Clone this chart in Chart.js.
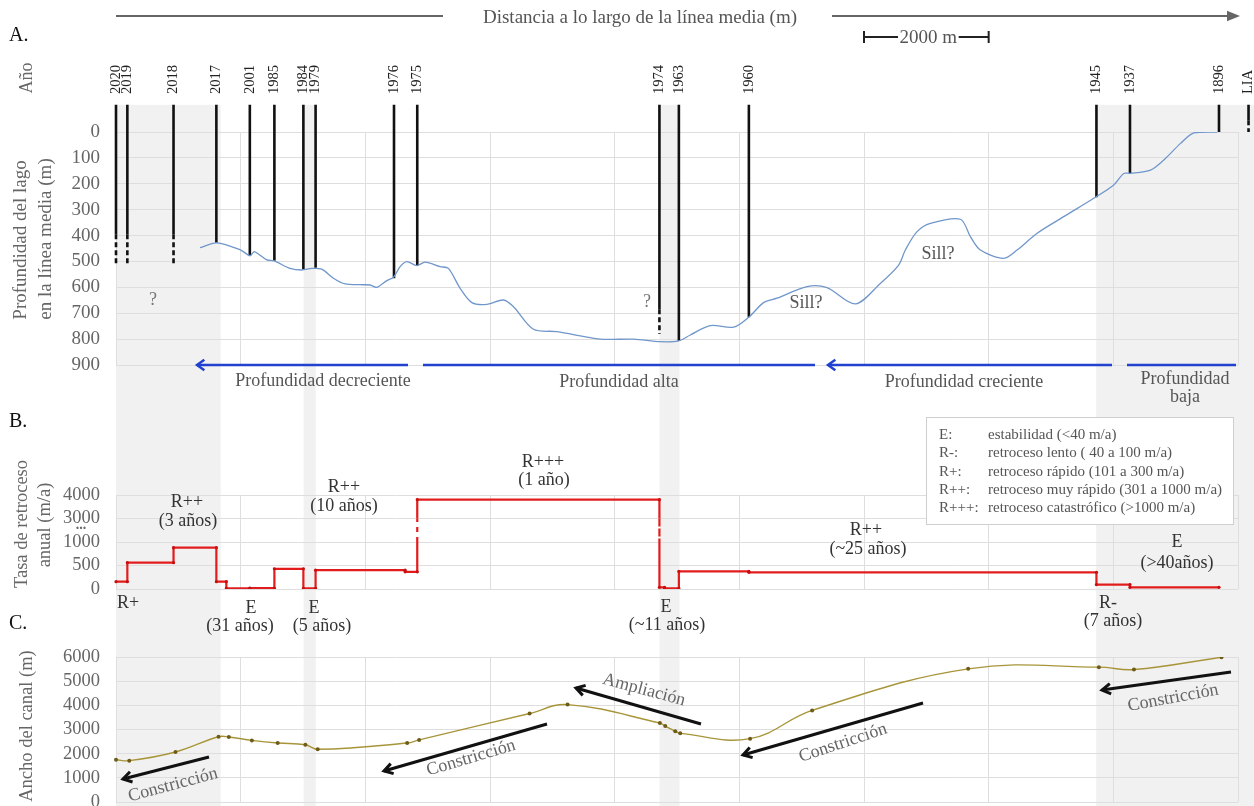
<!DOCTYPE html>
<html lang="es">
<head>
<meta charset="utf-8">
<title>Perfil del lago, tasa de retroceso y ancho del canal</title>
<script src="https://cdn.jsdelivr.net/npm/chart.js"></script>
<style>
  html, body { margin: 0; padding: 0; background: #fff; }
  #figure { position: relative; width: 1254px; height: 806px; overflow: hidden; background: #fff; }
  #figure canvas { position: absolute; left: 0; top: 0; }
</style>
</head>
<body>
<div id="figure">
  <canvas id="depthChart" width="1254" height="806"></canvas>
  <canvas id="rateChart" width="1254" height="806"></canvas>
  <canvas id="widthChart" width="1254" height="806"></canvas>
</div>
<script>
// ---------------- data ----------------
// distance along the centre line (m)
const distanceRange = [0, 18000];
const distanceGridStep = 2000;

// dated front positions: distance (m) and depth reached by the front line (m)
const yearLabels = ['2020', '2019', '2018', '2017', '2001', '1985', '1984', '1979', '1976', '1975',
                    '1974', '1963', '1960', '1945', '1937', '1896', 'LIA'];
const yearDistance = [0, 182, 923, 1610, 2147, 2541, 3006, 3202, 4460, 4833,
                      8718, 9030, 10153, 15729, 16267, 17695, 18169];
const frontDepth = [395, 395, 395, 428, 478, 497, 530, 524, 565, 516,
                    685, 807, 716, 252, 160, 0, -45];
const frontDepthUncertain = [515, 515, 515, null, null, null, null, null, null, null,
                             780, null, null, null, null, null, 0];

// lake bottom profile along the centre line
const profileDistance = [1348, 1616, 2001, 2151, 2215, 2284, 2419, 2536, 2793, 2981,
  3141, 3301, 3488, 3675, 3969, 4077, 4184, 4345, 4451, 4558,
  4666, 4826, 4960, 5200, 5333, 5521, 5709, 5950, 6216, 6377,
  6698, 7073, 7768, 8303, 8731, 9025, 9213, 9534, 9908, 10149,
  10389, 10604, 11085, 11406, 11861, 12262, 12556, 12663, 12851, 13065,
  13546, 13707, 13867, 14241, 14456, 14777, 15204, 15713, 16007, 16167,
  16275, 16596, 16810, 17078, 17291, 17666];
const profileDepth = [447, 428, 456, 478, 462, 471, 494, 498, 527, 533,
  527, 530, 565, 587, 590, 591, 600, 574, 561, 520,
  501, 516, 503, 520, 527, 604, 659, 666, 649, 675,
  762, 771, 800, 800, 810, 807, 784, 748, 754, 716,
  659, 642, 597, 601, 664, 585, 514, 456, 385, 353,
  337, 404, 456, 488, 456, 391, 327, 252, 205, 160,
  160, 147, 108, 44, 3, 0];

// annual retreat rate (m/a) between consecutive break distances
const retreatBreaks = [0, 182, 923, 1610, 1770, 2147, 2541, 3006, 3202, 4638,
                       4833, 8718, 8800, 9030, 10153, 15729, 16267, 17695];
const retreatRate = [155, 560, 880, 155, 15, 18, 430, 15, 400, 365,
                     3800, 35, 15, 375, 355, 95, 35];
const rateTickLabels = [0, 500, 1000, 3000, 4000];

// channel width (m)
const widthDistance = [0, 213, 955, 1645, 1810, 2180, 2594, 3038, 3236, 4671,
  4863, 6635, 7244, 8725, 8811, 8972, 9052, 10173, 11168, 13671,
  15768, 16331, 17735];
const widthValue = [1750, 1710, 2070, 2700, 2690, 2550, 2440, 2370, 2180, 2440,
  2570, 3660, 4030, 3270, 3140, 2930, 2840, 2620, 3790, 5510,
  5580, 5480, 5990];

// periods shaded across the three panels (m)
const shadedSpans = [[0, 1680], [3010, 3205], [8720, 9040], [15725, 18300]];

// retreat class legend
const rateClassKeys = ['E:', 'R-:', 'R+:', 'R++:', 'R+++:'];
const rateClassText = ['estabilidad (<40 m/a)', 'retroceso lento ( 40 a 100 m/a)',
  'retroceso rápido (101 a 300 m/a)', 'retroceso muy rápido (301 a 1000 m/a)',
  'retroceso catastrófico (>1000 m/a)'];

// ---------------- helpers ----------------
const SERIF = '"Liberation Serif", "Times New Roman", Times, serif';
const GRID = '#dedede';
const FRONT_TOP = -105;        // front lines start a little above the surface line

function txt(ctx, s, x, y, o = {}) {
  ctx.save();
  ctx.translate(x, y);
  if (o.rot) ctx.rotate(o.rot * Math.PI / 180);
  ctx.font = (o.weight || 'normal') + ' ' + (o.size || 18) + 'px ' + SERIF;
  ctx.fillStyle = o.color || '#555';
  ctx.textAlign = o.align || 'center';
  ctx.textBaseline = o.base || 'middle';
  ctx.fillText(s, 0, 0);
  ctx.restore();
}

// straight arrow from tail (tx,ty) to head (hx,hy)
function arrow(ctx, tx, ty, hx, hy, o) {
  const a = Math.atan2(hy - ty, hx - tx);
  const L = o.head || 9, sp = o.spread || 0.5;
  ctx.save();
  ctx.strokeStyle = o.color; ctx.fillStyle = o.color; ctx.lineWidth = o.width;
  ctx.beginPath(); ctx.moveTo(tx, ty);
  ctx.lineTo(o.filled ? hx - L * 0.8 * Math.cos(a) : hx, o.filled ? hy - L * 0.8 * Math.sin(a) : hy);
  ctx.stroke();
  ctx.beginPath();
  ctx.moveTo(hx - L * Math.cos(a - sp), hy - L * Math.sin(a - sp));
  ctx.lineTo(hx, hy);
  ctx.lineTo(hx - L * Math.cos(a + sp), hy - L * Math.sin(a + sp));
  if (o.filled) { ctx.closePath(); ctx.fill(); } else { ctx.lineJoin = 'miter'; ctx.stroke(); }
  ctx.restore();
}

function line(ctx, x1, y1, x2, y2, color, width) {
  ctx.save();
  ctx.strokeStyle = color; ctx.lineWidth = width;
  ctx.beginPath(); ctx.moveTo(x1, y1); ctx.lineTo(x2, y2); ctx.stroke();
  ctx.restore();
}

function xAxis() {
  return {
    type: 'linear',
    afterDataLimits(s) { s.min = distanceRange[0]; s.max = distanceRange[1]; },
    ticks: { display: false, stepSize: distanceGridStep },
    grid: { color: GRID, drawTicks: false, lineWidth: 1 },
    border: { display: false },
    afterFit(s) { s.height = 0; s.paddingLeft = 0; s.paddingRight = 0; }
  };
}

function yAxis(extra) {
  return Object.assign({
    type: 'linear',
    grid: { color: GRID, drawTicks: false, lineWidth: 1 },
    border: { display: false },
    afterFit(s) { s.width = 116; s.paddingTop = 0; s.paddingBottom = 0; }
  }, extra);
}

function baseOptions(padding, y) {
  return {
    responsive: false,
    animation: false,
    events: [],
    layout: { padding },
    plugins: { legend: { display: false }, tooltip: { enabled: false } },
    scales: { x: xAxis(), y }
  };
}

// ---------------- A: lake depth ----------------
const frontSolid = [], frontUncertain = [];
yearDistance.forEach((d, i) => {
  frontSolid.push({ x: d, y: FRONT_TOP }, { x: d, y: frontDepth[i] }, { x: d, y: null });
  if (frontDepthUncertain[i] !== null) {
    frontUncertain.push({ x: d, y: frontDepth[i] }, { x: d, y: frontDepthUncertain[i] }, { x: d, y: null });
  }
});

const shadePlugin = {
  id: 'shadedSpans',
  beforeDraw(chart) {
    const { ctx, scales: { x, y } } = chart;
    const top = y.getPixelForValue(FRONT_TOP);
    ctx.save();
    ctx.fillStyle = '#f1f1f1';
    shadedSpans.forEach(([a, b]) => {
      const x0 = x.getPixelForValue(a), x1 = x.getPixelForValue(b);
      ctx.fillRect(x0, top, x1 - x0, chart.height - top);
    });
    ctx.restore();
  }
};

const depthDecor = {
  id: 'depthDecor',
  afterDraw(chart) {
    const { ctx, scales: { x } } = chart;
    // distance header with arrow
    line(ctx, 116, 16, 443, 16, '#666', 2);
    arrow(ctx, 832, 16, 1240, 16, { color: '#666', width: 2, head: 14, spread: 0.38, filled: true });
    txt(ctx, 'Distancia a lo largo de la línea media (m)', 640, 18, { size: 19, color: '#555' });
    // 2000 m scale bar
    const s0 = x.getPixelForValue(12000), s1 = x.getPixelForValue(14000);
    line(ctx, s0, 37, s0 + 34, 37, '#222', 2);
    line(ctx, s1 - 30, 37, s1, 37, '#222', 2);
    line(ctx, s0, 31, s0, 43, '#222', 2);
    line(ctx, s1, 31, s1, 43, '#222', 2);
    txt(ctx, '2000 m', (s0 + s1) / 2 + 2, 38, { size: 19, color: '#555' });

    txt(ctx, 'A.', 9, 36, { size: 20, color: '#111', align: 'left' });
    txt(ctx, 'Año', 27, 78, { size: 18, color: '#666', rot: -90 });

    // year labels above the front lines
    yearLabels.forEach((lab, i) => {
      txt(ctx, lab, x.getPixelForValue(yearDistance[i]), 94, { size: 14.5, color: '#222', rot: -90, align: 'left' });
    });

    // axis title
    txt(ctx, 'Profundidad del lago', 21, 240, { size: 19, color: '#666', rot: -90 });
    txt(ctx, 'en la línea media (m)', 46, 239, { size: 19, color: '#666', rot: -90 });

    // notes inside the panel
    txt(ctx, '?', 153, 300, { size: 18, color: '#777' });
    txt(ctx, '?', 647, 302, { size: 18, color: '#777' });
    txt(ctx, 'Sill?', 806, 303, { size: 18, color: '#555' });
    txt(ctx, 'Sill?', 938, 254, { size: 18, color: '#555' });

    // depth trend arrows along the bottom line
    const blue = '#2141cf';
    arrow(ctx, 408, 365, 197, 365, { color: blue, width: 2.5, head: 9, spread: 0.62 });
    line(ctx, 423, 365, 815, 365, blue, 2.5);
    arrow(ctx, 1112, 365, 828, 365, { color: blue, width: 2.5, head: 9, spread: 0.62 });
    line(ctx, 1127, 365, 1236, 365, blue, 2.5);
    txt(ctx, 'Profundidad decreciente', 323, 381, { size: 18, color: '#555' });
    txt(ctx, 'Profundidad alta', 619, 382, { size: 18, color: '#555' });
    txt(ctx, 'Profundidad creciente', 964, 382, { size: 18, color: '#555' });
    txt(ctx, 'Profundidad', 1185, 379, { size: 18, color: '#555' });
    txt(ctx, 'baja', 1185, 397, { size: 18, color: '#555' });
  }
};

new Chart(document.getElementById('depthChart'), {
  type: 'line',
  data: {
    datasets: [
      { label: 'Profundidad', data: profileDistance.map((d, i) => ({ x: d, y: profileDepth[i] })),
        borderColor: '#7097cb', borderWidth: 1.3, pointRadius: 0, tension: 0.3 },
      { label: 'Frentes', data: frontSolid, borderColor: '#111', borderWidth: 2.6,
        pointRadius: 0, spanGaps: false, clip: false, tension: 0 },
      { label: 'Frentes inciertos', data: frontUncertain, borderColor: '#111', borderWidth: 2.6,
        borderDash: [5, 3], pointRadius: 0, spanGaps: false, clip: false, tension: 0 }
    ]
  },
  options: baseOptions({ top: 132, bottom: 806 - 365, left: 0, right: 16 }, yAxis({
    reverse: true, min: 0, max: 900,
    ticks: { stepSize: 100, autoSkip: false, padding: 16, color: '#666', font: { family: SERIF, size: 19 } }
  })),
  plugins: [shadePlugin, depthDecor]
});

// ---------------- B: annual retreat rate ----------------
// broken axis: 0-1000 linear, then 3000-4000
function rateToAxis(v) {
  if (v <= 1000) return v / 500;
  if (v >= 3000) return 3 + (v - 3000) / 1000;
  return 2 + (v - 1000) / 2000;
}

const ratePoints = [];
retreatRate.forEach((v, i) => {
  const x0 = retreatBreaks[i], x1 = retreatBreaks[i + 1];
  if (i > 0) {
    const prev = retreatRate[i - 1];
    if (Math.min(prev, v) <= 1000 && Math.max(prev, v) >= 3000) {
      (prev < v ? [1000, 3000] : [3000, 1000]).forEach(b => ratePoints.push({ x: x0, y: rateToAxis(b), gap: true }));
    }
  }
  ratePoints.push({ x: x0, y: rateToAxis(v) });
  ratePoints.push({ x: x1, y: rateToAxis(v) });
});

const rateDecor = {
  id: 'rateDecor',
  afterDraw(chart) {
    const { ctx } = chart;
    txt(ctx, 'B.', 9, 422, { size: 20, color: '#111', align: 'left' });
    txt(ctx, 'C.', 9, 624, { size: 20, color: '#111', align: 'left' });
    txt(ctx, 'Tasa de retroceso', 22, 524, { size: 18.5, color: '#666', rot: -90 });
    txt(ctx, 'anual (m/a)', 45, 525, { size: 18.5, color: '#666', rot: -90 });
    // break marker between the 1000 and 3000 ticks
    txt(ctx, '...', 81, 528.5, { size: 14, color: '#666', weight: 'bold', base: 'alphabetic' });

    const notes = [
      ['R+', 128, 603], ['R++', 187, 502], ['(3 años)', 188, 521],
      ['E', 251, 608], ['(31 años)', 240, 626],
      ['E', 314, 608], ['(5 años)', 322, 626],
      ['R++', 344, 487], ['(10 años)', 344, 506],
      ['R+++', 543, 462], ['(1 año)', 544, 480],
      ['E', 666, 607], ['(~11 años)', 667, 625],
      ['R++', 866, 530], ['(~25 años)', 868, 549],
      ['R-', 1108, 603], ['(7 años)', 1113, 621],
      ['E', 1177, 542], ['(>40años)', 1177, 563]
    ];
    notes.forEach(([s, px, py]) => txt(ctx, s, px, py, { size: 18, color: '#333' }));

    // legend of retreat classes
    ctx.save();
    ctx.fillStyle = '#fff';
    ctx.fillRect(926, 417, 307, 107);
    ctx.strokeStyle = '#cfcfcf'; ctx.lineWidth = 1;
    ctx.strokeRect(926.5, 417.5, 307, 107);
    ctx.restore();
    rateClassKeys.forEach((k, i) => {
      const ry = 435 + i * 18.3;
      txt(ctx, k, 939, ry, { size: 15, color: '#555', align: 'left' });
      txt(ctx, rateClassText[i], 988, ry, { size: 15, color: '#555', align: 'left' });
    });
  }
};

new Chart(document.getElementById('rateChart'), {
  type: 'line',
  data: {
    datasets: [{
      label: 'Tasa de retroceso', data: ratePoints,
      borderColor: '#e21c1c', borderWidth: 2.2, tension: 0,
      pointRadius: c => (ratePoints[c.dataIndex] && ratePoints[c.dataIndex].gap) ? 0 : 1.6,
      pointBackgroundColor: '#c81010', pointBorderWidth: 0,
      segment: {
        borderDash: c => (ratePoints[c.p0DataIndex].gap && ratePoints[c.p1DataIndex].gap) ? [5, 5] : undefined
      }
    }]
  },
  options: baseOptions({ top: 495, bottom: 806 - 589, left: 0, right: 16 }, yAxis({
    min: 0, max: rateTickLabels.length - 1,
    ticks: { stepSize: 1, autoSkip: false, padding: 16, color: '#666', font: { family: SERIF, size: 18.5 },
             callback: v => String(rateTickLabels[v]) }
  })),
  plugins: [rateDecor]
});

// ---------------- C: channel width ----------------
const widthDecor = {
  id: 'widthDecor',
  afterDraw(chart) {
    const { ctx } = chart;
    txt(ctx, 'Ancho del canal (m)', 27, 726, { size: 18.5, color: '#666', rot: -90 });
    const k = { color: '#111', width: 3, head: 10, spread: 0.55 };
    arrow(ctx, 209, 757, 123, 779, k);
    arrow(ctx, 547, 724, 384, 771, k);
    arrow(ctx, 701, 724, 576, 688, k);
    arrow(ctx, 923, 703, 743, 755, k);
    arrow(ctx, 1231, 672, 1102, 690, k);
    const g = { size: 18, color: '#666' };
    txt(ctx, 'Constricción', 173, 785, Object.assign({ rot: -15 }, g));
    txt(ctx, 'Constricción', 471, 758, Object.assign({ rot: -16.5 }, g));
    txt(ctx, 'Ampliación', 644, 690, Object.assign({ rot: 15 }, g));
    txt(ctx, 'Constricción', 843, 743, Object.assign({ rot: -18.5 }, g));
    txt(ctx, 'Constricción', 1173, 698, Object.assign({ rot: -10.5 }, g));
  }
};

new Chart(document.getElementById('widthChart'), {
  type: 'line',
  data: {
    datasets: [{
      label: 'Ancho del canal', data: widthDistance.map((d, i) => ({ x: d, y: widthValue[i] })),
      borderColor: '#a8953a', borderWidth: 1.4, tension: 0.4,
      pointRadius: 2, pointBackgroundColor: '#6e5c16', pointBorderWidth: 0
    }]
  },
  options: baseOptions({ top: 657, bottom: 4, left: 0, right: 16 }, yAxis({
    min: 0, max: 6000,
    ticks: { stepSize: 1000, autoSkip: false, padding: 16, color: '#666', font: { family: SERIF, size: 18.5 },
             callback: v => String(v) }
  })),
  plugins: [widthDecor]
});
</script>
</body>
</html>
